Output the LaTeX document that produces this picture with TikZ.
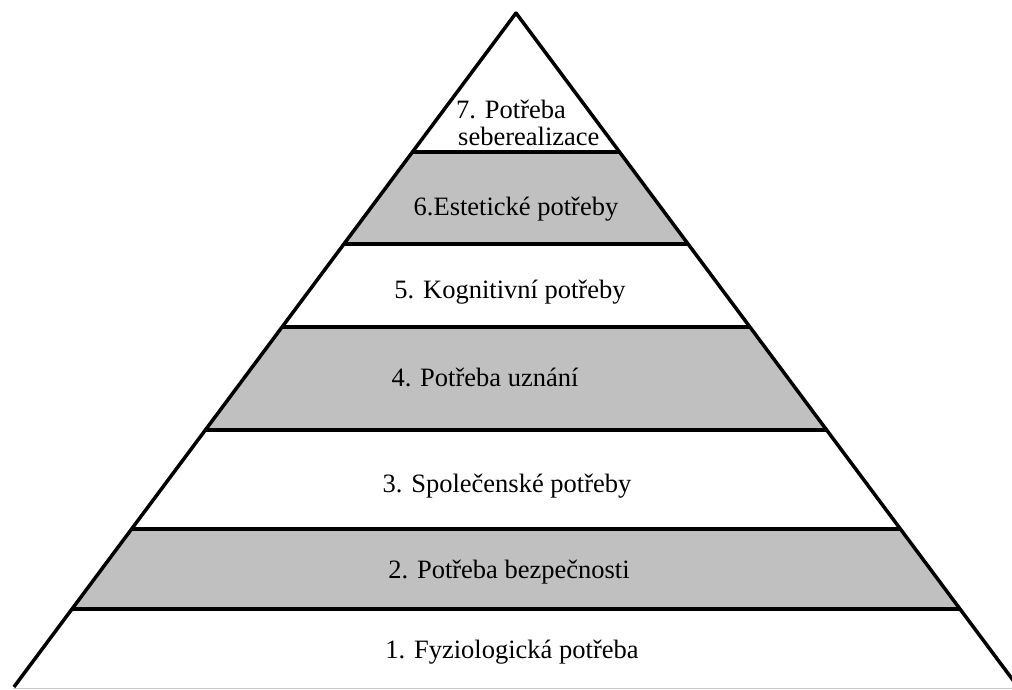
\documentclass[tikz,border=0pt]{standalone}
\usepackage{fontspec}
\setmainfont{Liberation Serif}
\definecolor{bandgray}{HTML}{C0C0C0}
\begin{document}
\begin{tikzpicture}[x=1pt,y=-1pt,
  lbl/.style={font=\fontsize{26.5}{28}\selectfont, inner sep=0pt, anchor=base},
  lblw/.style={font=\fontsize{26.5}{28}\selectfont, inner sep=0pt, anchor=base west},
  bandfill/.style={fill=bandgray, draw=none},
  divider/.style={line width=3.8pt},
  side/.style={line width=3.5pt, line join=round}]
\useasboundingbox (0,0) rectangle (1012,689);
\clip (0,0) rectangle (1012,689);
\fill[white] (0,0) rectangle (1012,689);
% apex and base corners
\coordinate (apex) at (516,13);
\coordinate (bl) at (13.9,687);
\coordinate (br) at (1018.1,687);
% edge points of each divider
\coordinate (l1) at (412.4,152); \coordinate (r1) at (619.6,152);
\coordinate (l2) at (343.9,244); \coordinate (r2) at (688.1,244);
\coordinate (l3) at (282.1,327); \coordinate (r3) at (749.9,327);
\coordinate (l4) at (205.3,430); \coordinate (r4) at (826.7,430);
\coordinate (l5) at (131.6,529); \coordinate (r5) at (900.4,529);
\coordinate (l6) at (72.0,609);  \coordinate (r6) at (960.0,609);
% gray bands
\path[bandfill] (l1) -- (r1) -- (r2) -- (l2) -- cycle;
\path[bandfill] (l3) -- (r3) -- (r4) -- (l4) -- cycle;
\path[bandfill] (l5) -- (r5) -- (r6) -- (l6) -- cycle;
% dividers
\draw[divider] (l1) -- (r1);
\draw[divider] (l2) -- (r2);
\draw[divider] (l3) -- (r3);
\draw[divider] (l4) -- (r4);
\draw[divider] (l5) -- (r5);
\draw[divider] (l6) -- (r6);
% faint base
\draw[black!22, line width=1pt] (13,688) -- (1012,688);
% sides
\draw[side] (bl) -- (apex) -- (br);
% labels
\node[lblw] (t7a) at (456,118) {7. Potřeba};
\node[lblw] (t7b) at (458,145) {seberealizace};
\node[lbl] (t6) at (516,215) {6.Estetické potřeby};
\node[lbl] (t5) at (510,298) {5. Kognitivní potřeby};
\node[lbl] (t4) at (485,386) {4. Potřeba uznání};
\node[lbl] (t3) at (507,492) {3. Společenské potřeby};
\node[lbl] (t2) at (509,578) {2. Potřeba bezpečnosti};
\node[lbl] (t1) at (512,658) {1. Fyziologická potřeba};
\end{tikzpicture}
\end{document}
